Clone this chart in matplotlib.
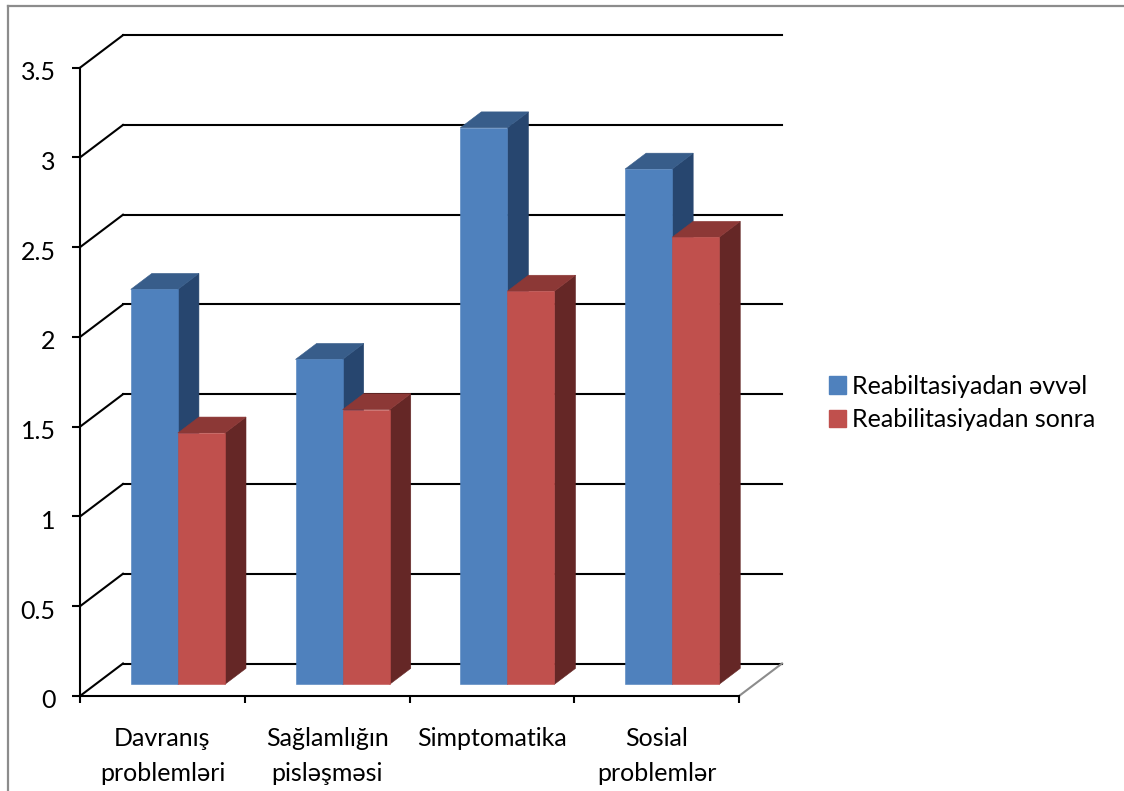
## Reabilitasiya nəticələri - 3D sütun diaqramı

## Libraries needed
import matplotlib
matplotlib.use("Agg")
import matplotlib.pyplot as plt
from matplotlib.patches import Polygon, Patch
from matplotlib.lines import Line2D
from matplotlib.transforms import ScaledTranslation

## Data
categories = ["Davranış\nproblemləri", "Sağlamlığın\npisləşməsi", "Simptomatika", "Sosial\nproblemlər"]
series_names = ["Reabiltasiyadan əvvəl", "Reabilitasiyadan sonra"]
before_values = [2.2, 1.81, 3.1, 2.87]
after_values = [1.4, 1.53, 2.19, 2.49]
y_ticks = [0, 0.5, 1, 1.5, 2, 2.5, 3, 3.5]
y_tick_labels = ["0", "0.5", "1", "1.5", "2", "2.5", "3", "3.5"]

## Styles
W, H = 1124, 791
FONT = ["Lato", "DejaVu Sans"]
FS = 18
face_colors = ["#4F81BD", "#C0504D"]
top_colors = ["#385D8A", "#8C3836"]
side_colors = ["#27466F", "#652726"]

# plot area (front plane) in pixels
PX_LEFT, PX_RIGHT = 80, 739
PX_ZERO, PX_TOP = 696, 67.7
# oblique depth of the walls, in pixels
DEPTH_PX = (43, -32.5)
# bars sit between these depth fractions
BAR_D0, BAR_D1 = 0.36, 0.85
GAP = 1.5

plt.rcParams["font.family"] = FONT

fig = plt.figure(figsize=(W / 100, H / 100), dpi=100)
ax = fig.add_axes([PX_LEFT / W, (H - PX_ZERO) / H,
                   (PX_RIGHT - PX_LEFT) / W, (PX_ZERO - PX_TOP) / H])
n = len(categories)
ax.set_xlim(0, n)
ax.set_ylim(0, y_ticks[-1])

# depth vector converted to data units
DX = DEPTH_PX[0] / ((PX_RIGHT - PX_LEFT) / n)
DY = -DEPTH_PX[1] / ((PX_ZERO - PX_TOP) / y_ticks[-1])


def proj(x, y, d):
    """Oblique projection of a point at depth fraction d."""
    return (x + d * DX, y + d * DY)


def line(p, q, color="black", lw=1.5, z=1):
    ax.add_line(Line2D([p[0], q[0]], [p[1], q[1]], color=color, lw=lw,
                       clip_on=False, zorder=z, solid_capstyle="projecting"))


## Walls and gridlines
for v in y_ticks:
    line(proj(0, v, 0), proj(0, v, 1))
    line(proj(0, v, 1), proj(n, v, 1))
line(proj(n, 0, 0), proj(n, 0, 1), color="#8C8C8C")

## Bars
width = 1 / (2 + GAP)
for i in range(n):
    for s, values in enumerate([before_values, after_values]):
        v = values[i]
        x0 = i + GAP * width / 2 + s * width
        x1 = x0 + width
        front = [proj(x0, 0, BAR_D0), proj(x1, 0, BAR_D0), proj(x1, v, BAR_D0), proj(x0, v, BAR_D0)]
        top = [proj(x0, v, BAR_D0), proj(x1, v, BAR_D0), proj(x1, v, BAR_D1), proj(x0, v, BAR_D1)]
        side = [proj(x1, 0, BAR_D0), proj(x1, v, BAR_D0), proj(x1, v, BAR_D1), proj(x1, 0, BAR_D1)]
        for pts, c in [(side, side_colors[s]), (top, top_colors[s]), (front, face_colors[s])]:
            ax.add_patch(Polygon(pts, closed=True, facecolor=c, edgecolor=c,
                                 lw=0.4, clip_on=False, zorder=2 + i * 2 + s))

## Axes
for side in ["top", "right"]:
    ax.spines[side].set_visible(False)
for side in ["left", "bottom"]:
    ax.spines[side].set_linewidth(1.5)
    ax.spines[side].set_zorder(20)

ax.set_yticks(y_ticks)
ax.set_yticklabels(y_tick_labels)
ax.tick_params(axis="y", direction="out", length=5.5, width=1.5, pad=12,
               labelsize=FS, colors="black")
# nudge the value labels a little below their ticks
for lab in ax.get_yticklabels():
    lab.set_transform(lab.get_transform() + ScaledTranslation(0, -3 / 100, fig.dpi_scale_trans))

ax.set_xticks(range(n + 1))
ax.set_xticklabels([""] * (n + 1))
ax.tick_params(axis="x", which="major", direction="out", length=5, width=1.5)
ax.set_xticks([i + 0.5 for i in range(n)], minor=True)
ax.set_xticklabels(categories, minor=True, fontsize=FS, linespacing=1.65)
ax.tick_params(axis="x", which="minor", length=0, pad=22)
ax.patch.set_visible(False)

## Legend
handles = [Patch(facecolor=c, edgecolor=c) for c in face_colors]
fig.legend(handles, series_names, loc="center left",
           bbox_to_anchor=(829 / W, 1 - 403 / H), frameon=False, fontsize=FS,
           handlelength=0.68, handleheight=0.68, handletextpad=0.25,
           labelspacing=0.42, borderpad=0, borderaxespad=0)

## Outer frame
fig.add_artist(Line2D([8 / W, 8 / W], [0, 1 - 6 / H], color="#8C8C8C", lw=1.6,
                      transform=fig.transFigure))
fig.add_artist(Line2D([8 / W, 1], [1 - 6 / H, 1 - 6 / H], color="#8C8C8C", lw=1.6,
                      transform=fig.transFigure))

fig.savefig("out.png", dpi=100)
